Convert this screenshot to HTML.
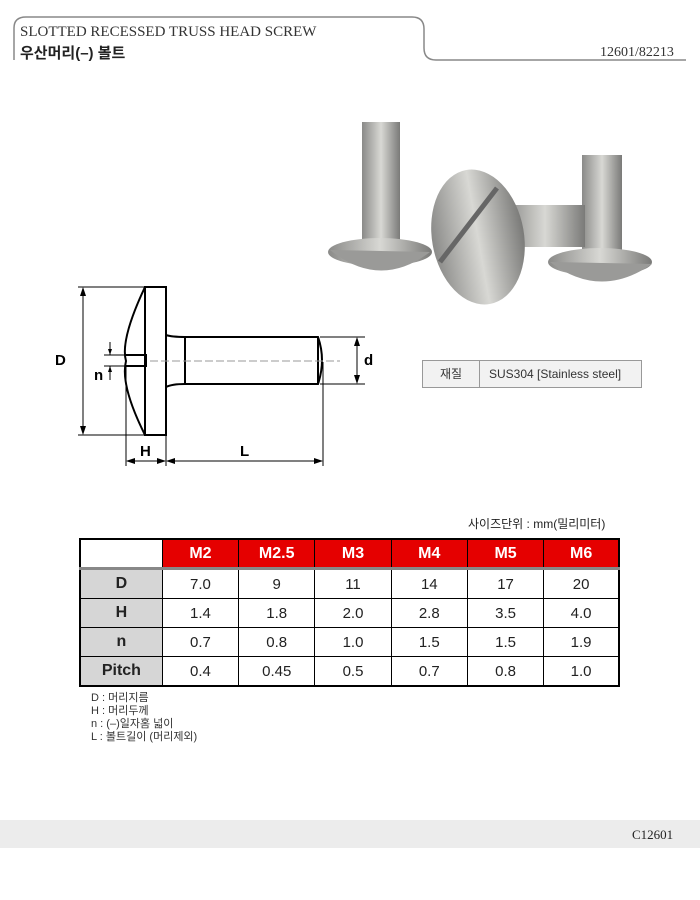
<!DOCTYPE html>
<html><head><meta charset="utf-8"><style>
body{margin:0;width:700px;height:900px;background:#fff;position:relative;font-family:"Liberation Sans","Noto Sans CJK KR",sans-serif;overflow:hidden}
.a{position:absolute}
table{border-collapse:collapse;position:absolute;left:79px;top:538px;width:541px;border:2px solid #000;table-layout:fixed}
td{border:1px solid #000;text-align:center;height:28px;font-size:15px;color:#222;padding:0}
tr.h td{background:#e50000;color:#fff;font-weight:bold;font-size:16px;height:27px;border-bottom:3px solid #888}
td.f{background:#d6d6d6;font-weight:bold;font-size:16px;color:#222}
</style></head><body>
<svg class="a" style="left:0;top:0" width="700" height="900">
<path d="M14 60 V28 Q14 17 26 17 H412 Q424 17 424 29 V48 Q424 60 436 60 H686" fill="none" stroke="#888" stroke-width="1.5"/>
<defs><linearGradient id="g" x1="0" x2="1"><stop offset="0" stop-color="#8a8a88"/><stop offset=".5" stop-color="#d8d8d4"/><stop offset="1" stop-color="#7a7a78"/></linearGradient></defs>
<rect x="362" y="122" width="38" height="125" fill="url(#g)"/>
<ellipse cx="380" cy="252" rx="52" ry="14" fill="url(#g)"/>
<path d="M330 250 Q380 290 430 252 Z" fill="#9a9a98"/>
<rect x="582" y="155" width="40" height="110" fill="url(#g)"/>
<ellipse cx="600" cy="262" rx="52" ry="14" fill="url(#g)"/>
<path d="M550 262 Q600 300 652 264 Z" fill="#9a9a98"/>
<rect x="505" y="205" width="80" height="42" fill="url(#g)"/>
<ellipse cx="478" cy="237" rx="46" ry="68" fill="url(#g)" transform="rotate(-10 478 237)"/>
<line x1="440" y1="262" x2="497" y2="188" stroke="#666" stroke-width="5"/>
<g stroke="#000" fill="none" stroke-width="2">
<rect x="145" y="287" width="21" height="148"/>
<path d="M145 287 Q120 340 126 361 Q120 385 145 435"/>
<path d="M166 335 Q172 337 185 337 H318 Q326 360 318 384 H185 Q172 384 166 387"/>
<line x1="185" y1="337" x2="185" y2="384"/>
<line x1="318" y1="337" x2="318" y2="384"/>
<path d="M126 355 H146 V366 H126"/>
</g>
<g stroke="#000" stroke-width="1">
<line x1="78" y1="287" x2="145" y2="287"/><line x1="78" y1="435" x2="145" y2="435"/>
<line x1="83" y1="289" x2="83" y2="433"/>
<line x1="126" y1="365" x2="126" y2="466"/><line x1="166" y1="435" x2="166" y2="466"/><line x1="323" y1="362" x2="323" y2="466"/>
<line x1="127" y1="461" x2="165" y2="461"/><line x1="167" y1="461" x2="322" y2="461"/>
<line x1="320" y1="337" x2="365" y2="337"/><line x1="320" y1="384" x2="365" y2="384"/>
<line x1="357" y1="339" x2="357" y2="382"/>
<line x1="104" y1="355" x2="126" y2="355"/><line x1="104" y1="366" x2="126" y2="366"/>
<line x1="110" y1="342" x2="110" y2="355"/><line x1="110" y1="366" x2="110" y2="380"/>
<line x1="150" y1="361" x2="340" y2="361" stroke="#999" stroke-dasharray="8 3"/>
</g>
<g fill="#000">
<path d="M83 287 l-3 9 h6z"/><path d="M83 435 l-3 -9 h6z"/>
<path d="M126 461 l9 -3 v6z"/><path d="M166 461 l-9 -3 v6z"/><path d="M166 461 l9 -3 v6z"/><path d="M323 461 l-9 -3 v6z"/>
<path d="M357 337 l-3 9 h6z"/><path d="M357 384 l-3 -9 h6z"/>
<path d="M110 355 l-2 -6 h4z"/><path d="M110 366 l-2 6 h4z"/>
</g>
<rect x="0" y="820" width="700" height="28" fill="#ececec"/>
</svg>
<div class="a" style="left:20px;top:24px;font-family:'Liberation Serif',serif;font-size:15px;color:#333">SLOTTED RECESSED TRUSS HEAD SCREW</div>
<div class="a" style="left:20px;top:42px;font-size:15px;font-weight:bold;color:#222">우산머리(–) 볼트</div>
<div class="a" style="left:600px;top:45px;font-family:'Liberation Serif',serif;font-size:14px;color:#333">12601/82213</div>
<div class="a" style="left:55px;top:352px;font-size:15px;font-weight:bold">D</div>
<div class="a" style="left:94px;top:367px;font-size:15px;font-weight:bold">n</div>
<div class="a" style="left:364px;top:352px;font-size:15px;font-weight:bold">d</div>
<div class="a" style="left:140px;top:443px;font-size:15px;font-weight:bold">H</div>
<div class="a" style="left:240px;top:443px;font-size:15px;font-weight:bold">L</div>
<div class="a" style="left:422px;top:360px;width:218px;height:26px;border:1px solid #999;background:#f2f2f2;font-size:12px;color:#333">
<div class="a" style="left:0;top:0;width:56px;height:26px;line-height:26px;text-align:center;border-right:1px solid #999">재질</div>
<div class="a" style="left:66px;top:0;line-height:26px">SUS304 [Stainless steel]</div></div>
<div class="a" style="left:468px;top:515px;font-size:12px;color:#222">사이즈단위 : mm(밀리미터)</div>
<table>
<colgroup><col style="width:82px"><col style="width:76px"><col style="width:76px"><col style="width:76px"><col style="width:76px"><col style="width:76px"><col style="width:75px"></colgroup>
<tr class="h"><td style="background:#fff;border-bottom:3px solid #888"></td><td>M2</td><td>M2.5</td><td>M3</td><td>M4</td><td>M5</td><td>M6</td></tr>
<tr><td class="f">D</td><td>7.0</td><td>9</td><td>11</td><td>14</td><td>17</td><td>20</td></tr>
<tr><td class="f">H</td><td>1.4</td><td>1.8</td><td>2.0</td><td>2.8</td><td>3.5</td><td>4.0</td></tr>
<tr><td class="f">n</td><td>0.7</td><td>0.8</td><td>1.0</td><td>1.5</td><td>1.5</td><td>1.9</td></tr>
<tr><td class="f">Pitch</td><td>0.4</td><td>0.45</td><td>0.5</td><td>0.7</td><td>0.8</td><td>1.0</td></tr>
</table>
<div class="a" style="left:91px;top:692px;font-size:11px;line-height:13px;color:#333">D : 머리지름<br>H : 머리두께<br>n : (–)일자홈 넓이<br>L : 볼트길이 (머리제외)</div>
<div class="a" style="left:632px;top:827px;font-family:'Liberation Serif',serif;font-size:13px;color:#222">C12601</div>
</body></html>
